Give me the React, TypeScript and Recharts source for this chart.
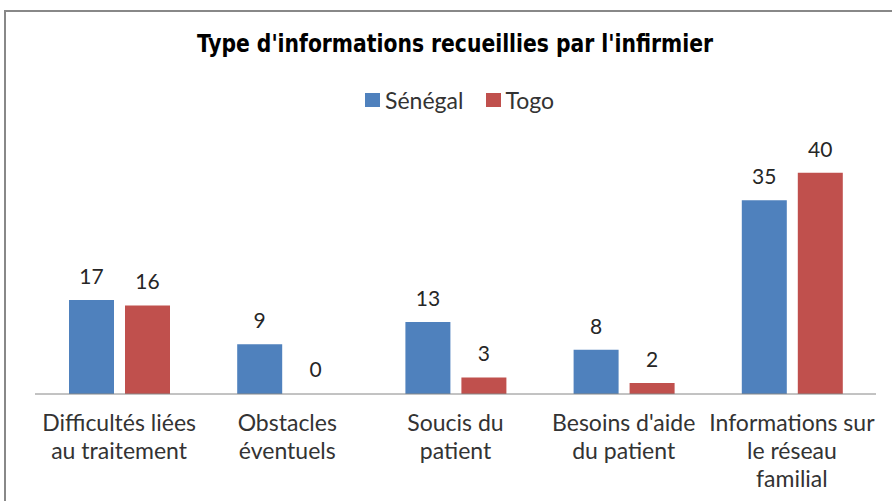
import React from 'react';
import { BarChart, Bar, XAxis, YAxis, Legend, LabelList, Rectangle } from 'recharts';

const categories = [
  'Difficultés liées au traitement',
  'Obstacles éventuels',
  'Soucis du patient',
  "Besoins d'aide du patient",
  'Informations sur le réseau familial',
];
const tickLines = [
  ['Difficultés liées', 'au traitement'],
  ['Obstacles', 'éventuels'],
  ['Soucis du', 'patient'],
  ["Besoins d'aide", 'du patient'],
  ['Informations sur', 'le réseau', 'familial'],
];
const senegal = [17, 9, 13, 8, 35];
const togo = [16, 0, 3, 2, 40];

const data = categories.map((c, i) => ({ name: c, idx: i, senegal: senegal[i], togo: togo[i] }));

const FONT = 'Lato, "Open Sans", sans-serif';
const BLUE = '#4F81BD';
const RED = '#C0504D';

const Tick = (props: any) => {
  const { x, y, payload } = props;
  const lines = tickLines[payload.index] || [payload.value];
  return (
    <text x={x} y={y} textAnchor="middle" fill="#333" fontSize={23} fontFamily={FONT}>
      {lines.map((l: string, i: number) => (
        <tspan key={i} x={x} y={y + 29 + i * 28}>{l}</tspan>
      ))}
    </text>
  );
};

const ValueLabel = (props: any) => {
  const vb = props.viewBox || {};
  const x = Number(props.x ?? vb.x);
  const y = Number(props.y ?? vb.y);
  const width = Number(props.width ?? vb.width);
  const height = Number(props.height ?? vb.height ?? 0);
  const top = Math.min(y, y + height);
  return (
    <text x={x + width / 2} y={top - 16} textAnchor="middle" fill="#262626" fontSize={21} fontFamily={FONT}>
      {String(props.value)}
    </text>
  );
};

const BarShape = (props: any) => {
  const v = props.value;
  const val = Array.isArray(v) ? v[1] - v[0] : v;
  if (!val) return <g />;
  return <Rectangle {...props} />;
};

const LegendContent = () => (
  <div style={{ display: 'flex', justifyContent: 'center', alignItems: 'center', fontFamily: FONT, fontSize: 23, color: '#333', paddingLeft: 27 }}>
    <span style={{ display: 'inline-block', width: 15, height: 14, background: BLUE, marginRight: 5 }} />
    <span style={{ marginRight: 23 }}>Sénégal</span>
    <span style={{ display: 'inline-block', width: 15, height: 14, background: RED, marginRight: 4 }} />
    <span>Togo</span>
  </div>
);

export default function App() {
  return (
    <div style={{ position: 'absolute', left: 0, top: 0, width: 892, height: 501, background: '#fff', overflow: 'hidden' }}>
      <div style={{ position: 'absolute', left: 4, top: 10, width: 900, height: 500, border: '2px solid #888' }} />
      <svg style={{ position: 'absolute', left: 0, top: 0 }} width={892} height={80}>
        <text x={455} y={52} textAnchor="middle" fontFamily='"Liberation Sans Narrow", "DejaVu Sans Condensed", sans-serif' fontWeight="bold" fontSize={24} fill="#000" textLength={516} lengthAdjust="spacingAndGlyphs">
          Type d'informations recueillies par l'infirmier
        </text>
      </svg>
      <div style={{ position: 'absolute', left: 0, top: 0 }}>
        <BarChart width={892} height={501} data={data} margin={{ top: 145, right: 16, bottom: 0, left: 35 }} barSize={45} barGap={11}>
          <XAxis dataKey="name" height={107} tickLine={false} axisLine={{ stroke: '#868686' }} tick={<Tick />} interval={0} />
          <YAxis hide domain={[0, 45]} />
          <Legend verticalAlign="middle" align="center" wrapperStyle={{ top: 86, left: 0, width: 892 }} content={<LegendContent />} />
          <Bar dataKey="senegal" name="Sénégal" fill={BLUE} isAnimationActive={false} minPointSize={1} shape={<BarShape />}>
            <LabelList dataKey="senegal" content={<ValueLabel />} />
          </Bar>
          <Bar dataKey="togo" name="Togo" fill={RED} isAnimationActive={false} minPointSize={1} shape={<BarShape />}>
            <LabelList dataKey="togo" content={<ValueLabel />} />
          </Bar>
        </BarChart>
      </div>
    </div>
  );
}
